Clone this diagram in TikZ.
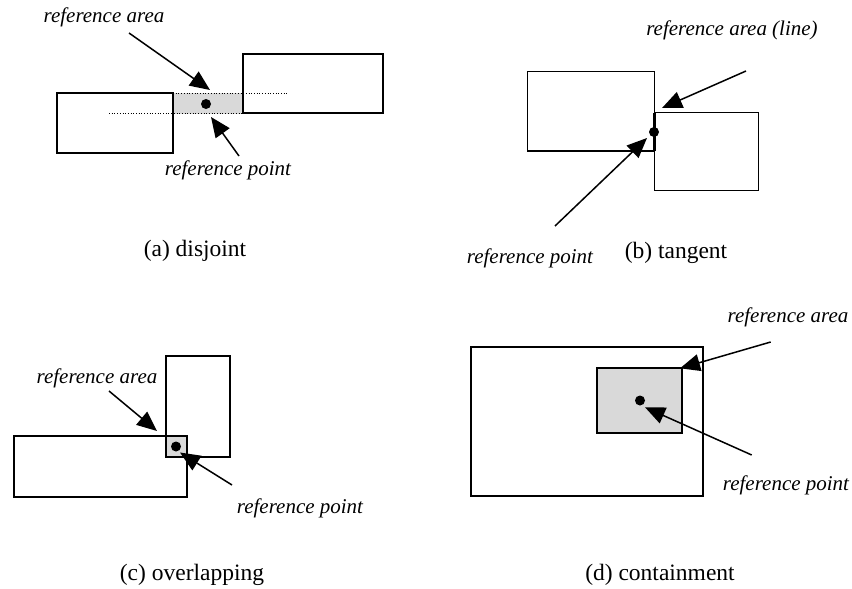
\documentclass[tikz,border=0pt]{standalone}
\usepackage{fontspec}
\setmainfont{Liberation Serif}
\usetikzlibrary{arrows.meta}
\definecolor{areagray}{RGB}{217,217,217}
\tikzset{
  box/.style={draw=black, line width=1.8pt},
  thinbox/.style={draw=black, line width=1.1pt},
  refarea/.style={fill=areagray, draw=black, line width=1.8pt},
  pointer/.style={draw=black, line width=1.5pt, -{Triangle[length=20pt,width=17pt]}},
  lbl/.style={font=\fontsize{21}{24}\selectfont\itshape, inner sep=0pt, anchor=base},
  captext/.style={font=\fontsize{23.5}{27}\selectfont, inner sep=0pt, anchor=base},
  refdot/.style={circle, fill=black, inner sep=0pt, minimum size=10pt},
  guide/.style={draw=black, line width=0.7pt, dotted}
}
\begin{document}
\begin{tikzpicture}[x=1pt,y=-1pt]
\useasboundingbox (0,0) rectangle (852,589);
% ---------- (a) disjoint ----------
\fill[areagray] (173,93) rectangle (243,113.5);
\draw[guide] (173,93) -- (289,93);
\draw[guide] (109,113.5) -- (243,113.5);
\draw[box] (57,93) rectangle (173,153);
\draw[box] (243,54) rectangle (383,113);
\node[refdot] (adot) at (206,104) {};
\node[lbl] (aal) at (104,22) {reference area};
\node[lbl] (apl) at (228,175) {reference point};
\coordinate (aas) at (129,33);
\coordinate (aat) at (210,90);
\coordinate (aps) at (239,156);
\coordinate (apt) at (211,117);
\draw[pointer] (aas) -- (aat);
\draw[pointer] (aps) -- (apt);
\node[captext] (acap) at (195,256) {(a) disjoint};
% ---------- (b) tangent ----------
\draw[thinbox] (527.5,71.5) rectangle (654.5,151);
\draw[thinbox] (654.5,112.5) rectangle (758.5,190.5);
\draw[black, line width=2.2pt] (654.5,112.5) -- (654.5,151);
\node[refdot] (bdot) at (654,132) {};
\node[lbl] (bal) at (732,35) {reference area (line)};
\node[lbl] (bpl) at (530,263) {reference point};
\coordinate (bas) at (746,71);
\coordinate (bat) at (662,108);
\coordinate (bps) at (555,226);
\coordinate (bpt) at (647,138);
\draw[pointer] (bas) -- (bat);
\draw[pointer] (bps) -- (bpt);
\node[captext] (bcap) at (676,258) {(b) tangent};
% ---------- (c) overlapping ----------
\draw[box] (165.7,355.7) rectangle (230,457.3);
\draw[box] (14.3,436) rectangle (187.3,497.3);
\draw[refarea] (165.7,436) rectangle (187.3,457.3);
\node[refdot] (cdot) at (176,446.5) {};
\node[lbl] (cal) at (97,383) {reference area};
\node[lbl] (cpl) at (300,513) {reference point};
\coordinate (cas) at (109,391);
\coordinate (cat) at (157,431);
\coordinate (cps) at (232,485);
\coordinate (cpt) at (180,452.5);
\draw[pointer] (cas) -- (cat);
\draw[pointer] (cps) -- (cpt);
\node[captext] (ccap) at (192,580) {(c) overlapping};
% ---------- (d) containment ----------
\draw[box] (470.7,346.7) rectangle (703.3,496);
\draw[refarea] (596.7,367.7) rectangle (682.3,432.7);
\node[refdot] (ddot) at (640,400.5) {};
\node[lbl] (dal) at (788,322) {reference area};
\node[lbl] (dpl) at (786,490) {reference point};
\coordinate (das) at (770.7,342);
\coordinate (dat) at (680,368.3);
\coordinate (dps) at (751.7,455);
\coordinate (dpt) at (645,407.3);
\draw[pointer] (das) -- (dat);
\draw[pointer] (dps) -- (dpt);
\node[captext] (dcap) at (660,580) {(d) containment};
\end{tikzpicture}
\end{document}
